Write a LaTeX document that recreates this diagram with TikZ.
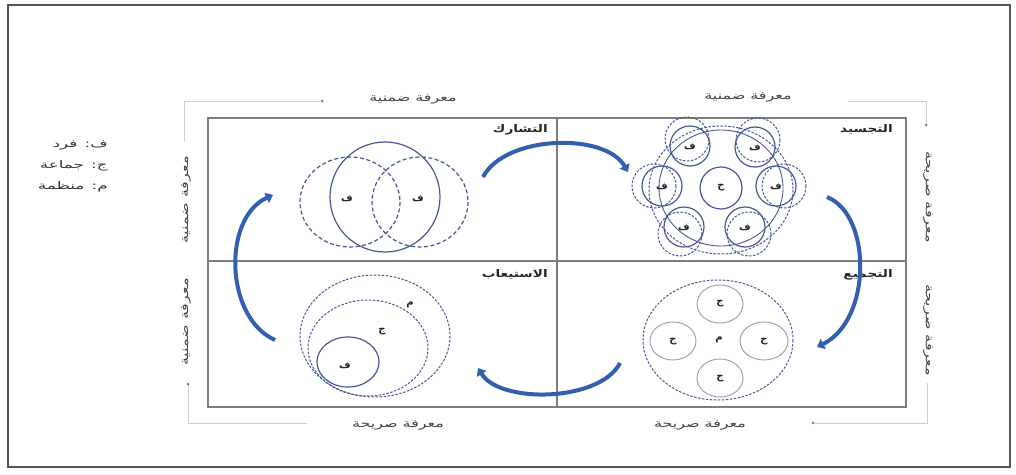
\documentclass[tikz,border=0pt]{standalone}
\usepackage{fontspec}
\newfontfamily\arabicfont[Script=Arabic]{DejaVu Sans}
\TeXXeTstate=1
\usetikzlibrary{arrows.meta}
\newcommand\ar[1]{\arabicfont\beginR #1\endR}
\definecolor{circ}{RGB}{70,88,150}
\definecolor{arr}{RGB}{50,95,175}
\definecolor{boxc}{RGB}{125,125,125}
\definecolor{framec}{RGB}{85,85,85}
\definecolor{brkc}{RGB}{205,205,210}
\definecolor{dotc}{RGB}{120,120,185}
\definecolor{lightc}{RGB}{150,155,180}
\begin{document}
\begin{tikzpicture}[x=1pt,y=-1pt,
  frame/.style={draw=framec,line width=2.2pt},
  boxline/.style={draw=boxc,line width=1.3pt},
  brk/.style={draw=brkc,line width=0.8pt},
  dotn/.style={circle,fill=dotc,inner sep=0pt,minimum size=3pt},
  lbl/.style={font=\fontsize{11}{13}\selectfont,text=black!75,inner sep=0pt,xscale=1.45},
  lblv/.style={font=\fontsize{11}{13}\selectfont,text=black!75,inner sep=0pt,yscale=1.45},
  qlbl/.style={font=\fontsize{10.5}{12}\selectfont\bfseries,text=black!85,inner sep=0pt,anchor=north east,xscale=1.3},
  leg/.style={font=\fontsize{10.5}{12}\selectfont,text=black!80,inner sep=0pt,anchor=east,xscale=1.6},
  let/.style={font=\fontsize{10}{12}\selectfont\bfseries,text=black!85,inner sep=0pt},
  sol/.style={draw=circ,line width=1.2pt},
  dsh/.style={draw=circ,line width=1.2pt,dash pattern=on 4pt off 2.5pt},
  dshs/.style={draw=circ,line width=1pt,dash pattern=on 2.5pt off 1.5pt},
  lite/.style={draw=lightc,line width=0.9pt},
  carrow/.style={draw=arr,line width=4pt,-{Triangle[width=11pt,length=7pt]}}
]
\useasboundingbox (0,0) rectangle (1016,474);
\draw[frame] (8,5) rectangle (1010,467);

% main matrix
\draw[boxline] (208,118) rectangle (906,407);
\coordinate (mt) at (557,118); \coordinate (mb) at (557,407);
\coordinate (ml) at (208,261); \coordinate (mr) at (906,261);
\draw[boxline] (mt) -- (mb);
\draw[boxline] (ml) -- (mr);

% legend
\node[leg] (l1) at (108,145) {\ar{ف: فرد}};
\node[leg] (l2) at (108,166) {\ar{ج: جماعة}};
\node[leg] (l3) at (108,187) {\ar{م: منظمة}};

% axis labels
\node[lbl] (tl) at (413,99) {\ar{معرفة ضمنية}};
\node[lbl] (tr) at (748,97) {\ar{معرفة ضمنية}};
\node[lbl] (bl) at (398,425) {\ar{معرفة صريحة}};
\node[lbl] (br) at (700,425) {\ar{معرفة صريحة}};
\node[lblv,rotate=90] (lu) at (186,200) {\ar{معرفة ضمنية}};
\node[lblv,rotate=90] (ld) at (186,322) {\ar{معرفة ضمنية}};
\node[lblv,rotate=-90] (ru) at (928,197) {\ar{معرفة صريحة}};
\node[lblv,rotate=-90] (rd) at (928,330) {\ar{معرفة صريحة}};

% bracket lines
\node[dotn] (d1) at (322,101) {};
\node[dotn] (d2) at (926,125) {};
\node[dotn] (d3) at (813,423) {};
\node[dotn] (d4) at (188,384) {};
\coordinate (c1) at (184,101); \coordinate (c1b) at (184,142);
\coordinate (c2) at (926,101); \coordinate (c2b) at (848,101);
\coordinate (c3) at (927,423); \coordinate (c3b) at (927,383);
\coordinate (c4) at (188,423); \coordinate (c4b) at (307,423);
\draw[brk] (d1) -- (c1) -- (c1b);
\draw[brk] (c2b) -- (c2) -- (d2);
\draw[brk] (d3) -- (c3) -- (c3b);
\draw[brk] (d4) -- (c4) -- (c4b);

% quadrant titles
\node[qlbl] (q1) at (548,124) {\ar{التشارك}};
\node[qlbl] (q2) at (893,124) {\ar{التجسيد}};
\node[qlbl] (q3) at (548,269) {\ar{الاستيعاب}};
\node[qlbl] (q4) at (893,269) {\ar{التجميع}};

% Q1 socialization
\draw[dsh] (350,202) ellipse [x radius=50,y radius=45];
\draw[dsh] (420,202) ellipse [x radius=48,y radius=45];
\draw[sol] (385,197) circle [radius=55];
\node[let] (s1) at (347,198) {\ar{ف}};
\node[let] (s2) at (418,198) {\ar{ف}};

% Q2 externalization
\draw[sol,line width=0.9pt] (721,188) ellipse [x radius=62,y radius=58];
\draw[dshs] (721,190) ellipse [x radius=72,y radius=64];
\draw[sol] (721,188) circle [radius=21];
\node[let] (e0) at (721,188) {\ar{ج}};
\foreach \x/\y/\dx/\dy [count=\i] in {690/146/-3/-7, 755/147/3/-7, 662/186/-8/0, 776/186/8/0, 684/227/-4/7, 745/227/4/7}{
  \draw[sol] (\x,\y) circle [radius=20];
  \draw[dshs] (\x+\dx,\y+\dy) circle [radius=22];
  \node[let] (e\i) at (\x,\y) {\ar{ف}};
}

% Q3 internalization
\draw[dshs] (375,336) ellipse [x radius=75,y radius=61];
\draw[dshs] (368,348) ellipse [x radius=60,y radius=48];
\draw[sol] (348,362) ellipse [x radius=31,y radius=25];
\node[let] (i1) at (410,305) {\ar{م}};
\node[let] (i2) at (382,332) {\ar{ج}};
\node[let] (i3) at (345,365) {\ar{ف}};

% Q4 combination
\draw[dshs] (718,340) ellipse [x radius=75,y radius=60];
\draw[lite] (720,304) ellipse [x radius=23,y radius=19];
\draw[lite] (673,341) ellipse [x radius=23,y radius=19];
\draw[lite] (764,341) ellipse [x radius=24,y radius=19];
\draw[lite] (720,378) ellipse [x radius=23,y radius=19];
\node[let] (c01) at (720,304) {\ar{ج}};
\node[let] (c02) at (673,342) {\ar{ج}};
\node[let] (c03) at (764,342) {\ar{ج}};
\node[let] (c04) at (720,379) {\ar{ج}};
\node[let] (c05) at (719,340) {\ar{م}};

% cycle arrows
\coordinate (a1s) at (483,177); \coordinate (a1e) at (628,172);
\coordinate (a2s) at (827,197); \coordinate (a2e) at (817,347);
\coordinate (a3s) at (620,363); \coordinate (a3e) at (478,368);
\coordinate (a4s) at (275,340); \coordinate (a4e) at (273,195);
\draw[carrow] (a1s) .. controls (505,135) and (605,132) .. (a1e);
\draw[carrow] (a2s) .. controls (872,215) and (872,320) .. (a2e);
\draw[carrow] (a3s) .. controls (600,402) and (500,404) .. (a3e);
\draw[carrow] (a4s) .. controls (225,318) and (222,218) .. (a4e);
\end{tikzpicture}
\end{document}
